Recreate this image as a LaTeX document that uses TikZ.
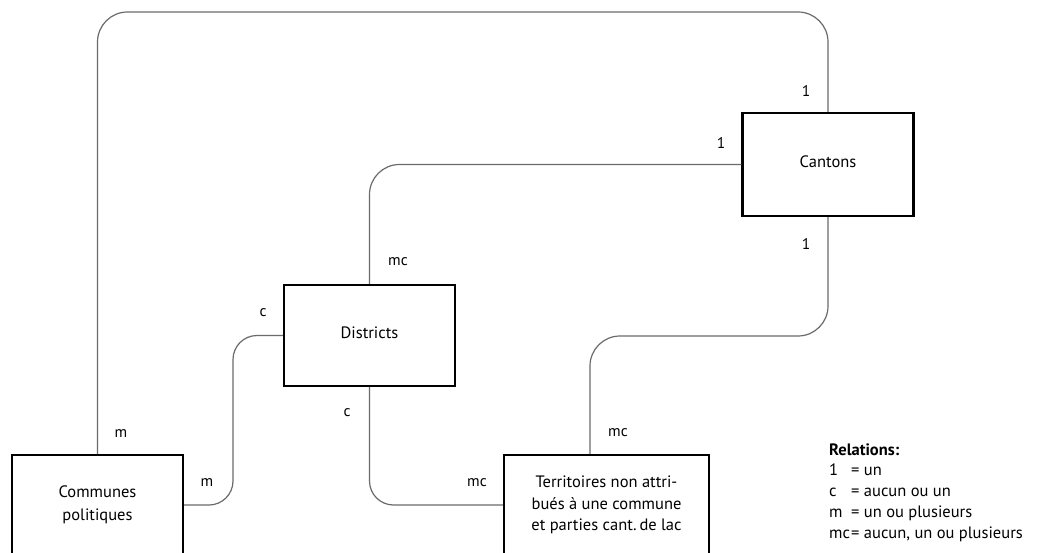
\documentclass[tikz,border=0pt]{standalone}
\usepackage{fontspec}
\setmainfont{PT Sans}
\begin{document}
\begin{tikzpicture}[x=1pt,y=-1pt,
  entity/.style={draw=black,line width=2.4pt,fill=white,minimum width=171pt,minimum height=103pt,inner sep=0pt,align=center,font=\fontsize{16.5}{21.5}\selectfont},
  link/.style={draw=black!58,line width=1.2pt},
  card/.style={font=\fontsize{15.5}{18}\selectfont,inner sep=0pt},
  legend/.style={font=\fontsize{16.5}{20}\selectfont,inner sep=0pt,anchor=base west}]
\clip (0,0) rectangle (1043,553);
\fill[white] (0,0) rectangle (1043,553);

% entities
\node[entity] (cant) at (828,164.5) {\raisebox{5pt}{Cantons}};
\node[entity,minimum height=101pt] (dist) at (369.5,335.5) {\raisebox{5pt}{Districts}};
\node[entity,minimum width=171pt,minimum height=100pt] (comm) at (97.5,505) {\raisebox{0pt}{Communes}\\[1pt]politiques};
\node[entity,minimum width=205pt,minimum height=100pt] (terr) at (606.5,505) {Territoires non attri-\\bués à une commune\\et parties cant.\,de lac};

% routing points
\coordinate (topline) at (0,12);
\coordinate (midline) at (0,336);
\coordinate (terrin) at ([xshift=-16.5pt]terr.north);
\coordinate (distleft) at (233,0);

% relations
\draw[link,rounded corners=30pt] (comm.north) -- (comm.north |- topline) -- (cant.north |- topline) -- (cant.north);
\draw[link,rounded corners=30pt] (cant.west) -| (dist.north);
\draw[link,rounded corners=30pt] (cant.south) -- (cant.south |- midline) -- (terrin |- midline) -- (terrin);
\draw[link,rounded corners=24pt] (dist.west) -- (distleft |- dist.west) -- (distleft |- comm.east) -- (comm.east);
\draw[link,rounded corners=24pt] (dist.south) -- (dist.south |- terr.west) -- (terr.west);

% cardinalities
\node[card] (c1) at (806,91) {1};
\node[card] (c2) at (721,143) {1};
\node[card] (c3) at (806,244) {1};
\node[card] (c4) at (398,262) {mc};
\node[card] (c5) at (263,313) {c};
\node[card] (c6) at (347,413) {c};
\node[card] (c7) at (121,434) {m};
\node[card] (c8) at (207,483) {m};
\node[card] (c9) at (477,483) {mc};
\node[card] (c10) at (618,433) {mc};

% key
\node[legend,font=\fontsize{16.5}{20}\selectfont\bfseries] (lt) at (829,455) {Relations:};
\node[legend] (la) at (829,475) {1};
\node[legend] (lb) at (829,496) {c};
\node[legend] (lc) at (829,517) {m};
\node[legend] (ld) at (829,538) {mc};
\node[legend] (ra) at (851,475) {= un};
\node[legend] (rb) at (851,496) {= aucun ou un};
\node[legend] (rc) at (851,517) {= un ou plusieurs};
\node[legend] (rd) at (851,538) {= aucun, un ou plusieurs};
\end{tikzpicture}
\end{document}
